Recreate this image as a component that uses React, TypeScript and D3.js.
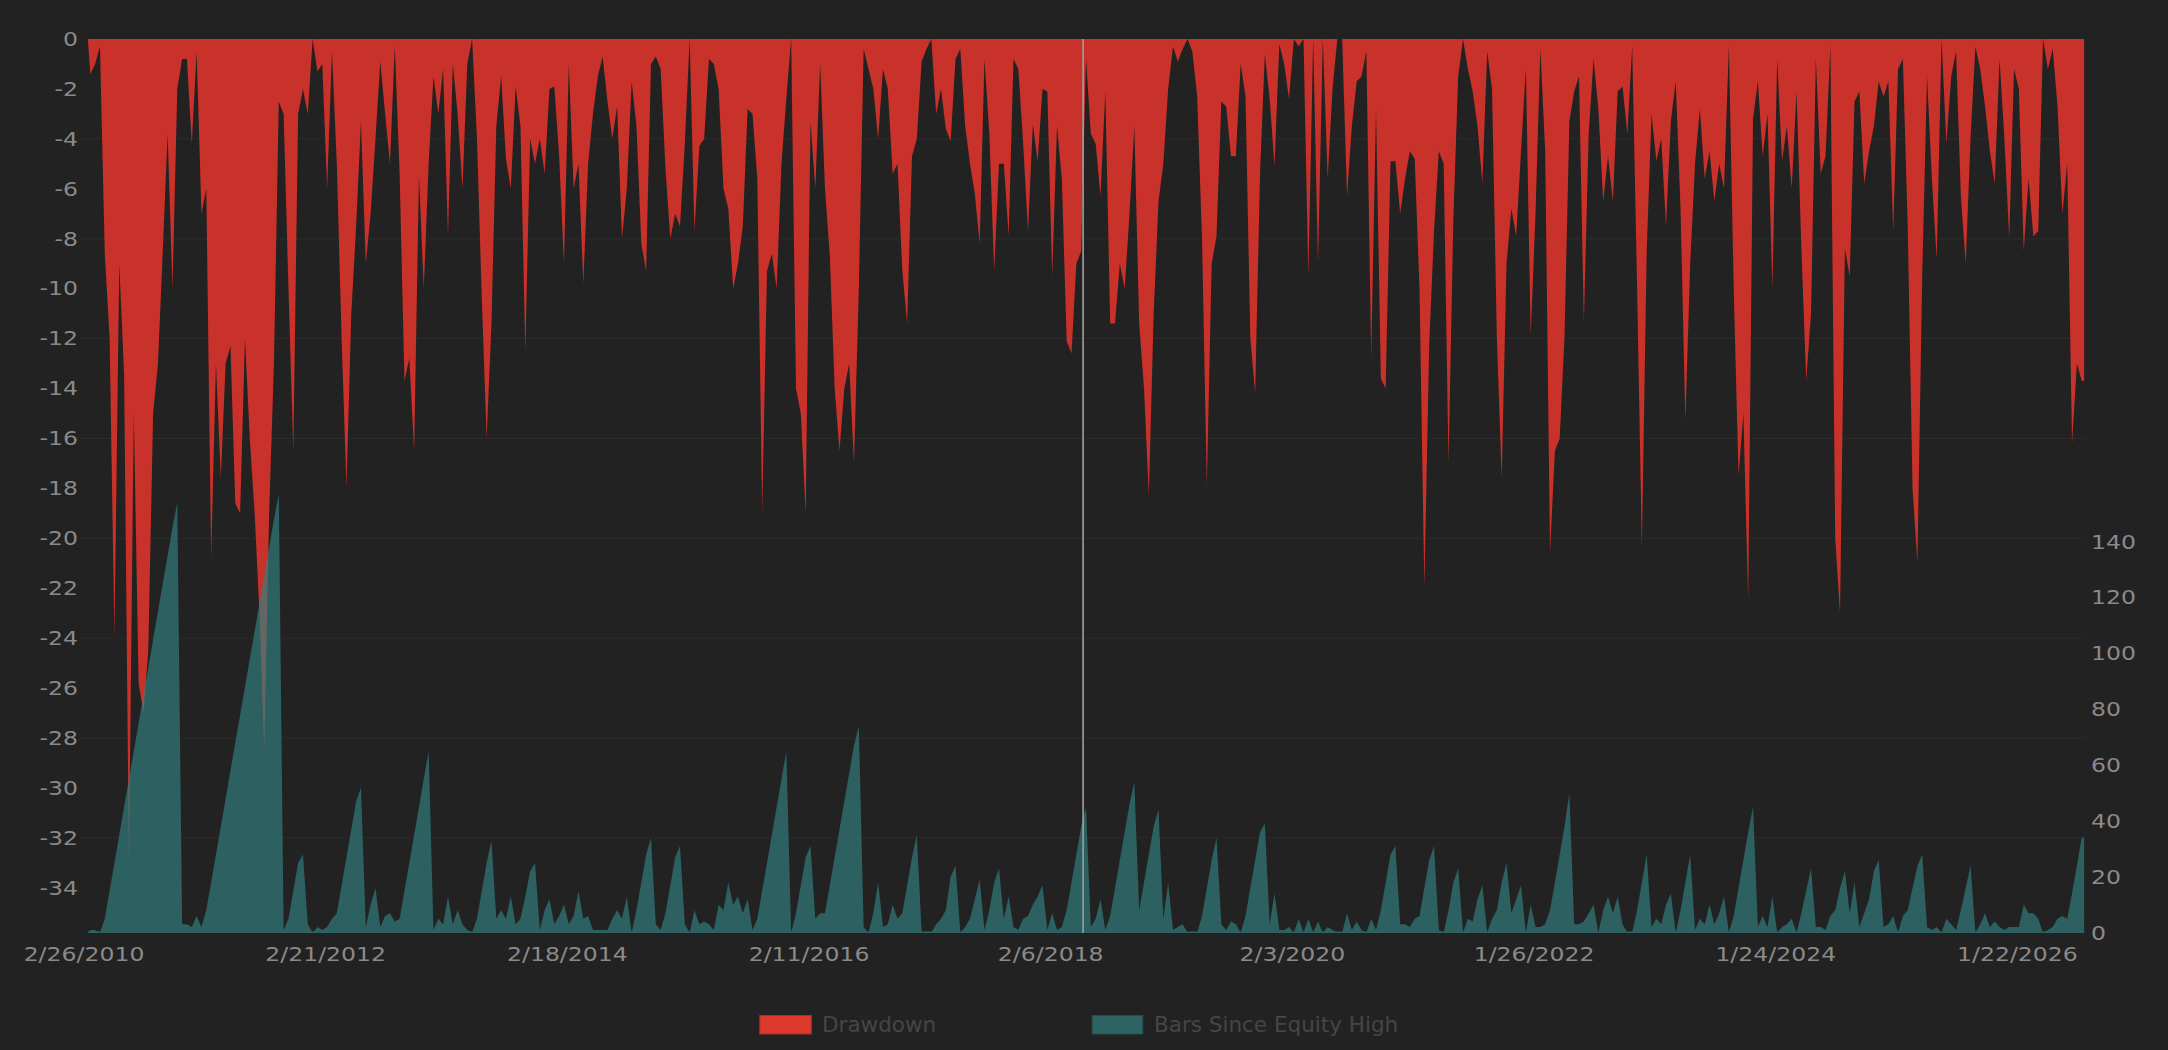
import React from 'react';
import * as d3 from 'd3';

// drawdown (%) per sample of 10 bars
const drawdown: number[] = [
  -1.4, -1.0, -0.3, -8.6, -12, -24, -9, -13.5, -33, -15,
  -25.8, -27, -24.5, -15, -13, -8.5, -3.8, -10, -2, -0.8,
  -0.8, -4.2, -0.5, -7, -6, -20.8, -13, -17.6, -13, -12.3,
  -18.6, -19, -12, -16, -19, -23, -28.5, -19, -13, -2.5,
  -3, -10, -16.5, -3, -2, -3, 0, -1.3, -1, -6,
  -0.5, -5, -12, -18, -11, -7.5, -3.3, -9, -7, -4,
  -0.9, -3, -5, -0.3, -5.4, -13.7, -12.8, -16.5, -5.5, -10,
  -5, -1.5, -3, -1.2, -7.9, -1, -3, -6, -1, 0,
  -4, -10.4, -16, -11.4, -3.5, -1.5, -4.8, -6, -1.9, -3.5,
  -12.5, -4, -5, -4, -5.4, -2, -1.9, -4.7, -9, -1,
  -6, -5, -9.8, -5, -3, -1.5, -0.7, -2.5, -4, -2.7,
  -8, -6, -1.7, -3.5, -8.2, -9.3, -1, -0.7, -1.2, -5.2,
  -8, -7, -7.5, -4.2, 0, -7.7, -4.3, -4, -0.8, -1,
  -2, -6, -6.8, -10, -9, -7.5, -2.8, -3, -5.6, -19,
  -9.3, -8.6, -10, -5, -2.4, 0, -14, -15, -19, -3.3,
  -6, -1, -6, -8.7, -14, -16.5, -14, -13, -17, -10,
  -0.4, -1.2, -2, -4, -1.2, -2, -5.4, -5, -9.3, -11.4,
  -4.7, -4, -0.9, -0.4, 0, -3, -2, -3.6, -4.1, -0.8,
  -0.4, -3.5, -5, -6.2, -8.2, -0.8, -3.8, -9.3, -5, -5,
  -7.9, -0.8, -1.2, -4.2, -7.7, -3.4, -4.9, -2, -2.1, -9.5,
  -3.5, -5.6, -12.1, -12.6, -9, -8.5, -0.8, -3.8, -4.2, -6.3,
  -2.1, -11.4, -11.4, -9, -10, -7, -3.5, -11.4, -14, -18.3,
  -11, -6.5, -5, -2, -0.3, -0.9, -0.4, 0, -0.5, -2.3,
  -8, -17.9, -9, -7.9, -2.5, -2.7, -4.7, -4.7, -1, -2.3,
  -12, -14.2, -5.4, -0.6, -2.4, -5.1, -0.2, -1, -2.4, 0,
  -0.3, 0, -9.5, 0, -9, 0, -5.6, -2, 0, 0,
  -6.3, -3.5, -1.7, -1.5, -0.5, -12.8, -2.8, -13.6, -14, -4.9,
  -4.9, -7, -5.6, -4.5, -4.8, -10, -22, -12.3, -7.7, -4.5,
  -5, -17, -7.2, -1.5, 0, -1.2, -2.1, -3.5, -5.8, -0.5,
  -2, -12, -17.6, -9, -6.8, -7.9, -4.5, -1.2, -11.9, -7,
  -0.4, -4.5, -20.6, -16.5, -16, -11.9, -3.3, -2.1, -1.5, -11.4,
  -3.8, -0.8, -2.8, -6.5, -4.7, -6.5, -2.1, -1.9, -3.8, -0.3,
  -9.8, -20.4, -8.5, -3, -4.9, -4, -7.5, -3.3, -1.7, -6.8,
  -15.3, -9, -5, -2.8, -5.6, -4.5, -6.5, -5, -6, -0.3,
  -10, -17.5, -15, -22.5, -3.2, -1.7, -4.7, -3, -10, -0.8,
  -4.9, -3.5, -6, -2.1, -8.4, -13.7, -11, -0.8, -5.4, -4.7,
  -0.3, -20, -23, -8.4, -9.5, -2.5, -2.1, -5.8, -4.5, -3.5,
  -1.7, -2.3, -1.7, -7.7, -1.2, -0.8, -7.5, -18, -21, -9.5,
  -1.5, -5.6, -8.8, 0, -4.2, -1.5, -0.5, -6.3, -9, -4,
  -0.3, -1.2, -2.7, -4.5, -5.8, -0.8, -4, -8, -1.2, -2,
  -8.5, -5.6, -7.9, -7.7, 0, -1.2, -0.4, -2.7, -7, -5,
  -16.2, -13, -13.7,
];

// bars since equity high, same samples
const barsSinceHigh: number[] = [
  1, 1, 0, 5, 15, 25, 35, 45, 55, 65,
  75, 85, 95, 105, 115, 125, 135, 145, 154, 3,
  3, 2, 6, 2, 8, 18, 28, 38, 48, 58,
  68, 78, 88, 98, 108, 118, 128, 138, 148, 157,
  1, 5, 15, 25, 28, 3, 0, 2, 1, 2,
  5, 7, 17, 27, 37, 47, 52, 2, 10, 16,
  2, 6, 7, 4, 5, 15, 25, 35, 45, 55,
  65, 1, 5, 3, 13, 3, 8, 3, 1, 0,
  5, 15, 25, 33, 5, 8, 5, 13, 3, 5,
  13, 22, 25, 1, 8, 12, 3, 6, 10, 3,
  6, 15, 5, 6, 1, 1, 1, 1, 5, 8,
  5, 13, 0, 8, 18, 28, 34, 3, 1, 7,
  17, 27, 31, 3, 0, 8, 3, 4, 3, 1,
  10, 8, 18, 10, 13, 7, 12, 1, 5, 15,
  25, 35, 45, 55, 65, 0, 7, 17, 27, 31,
  5, 7, 7, 17, 27, 37, 47, 57, 67, 74,
  2, 0, 7, 18, 2, 3, 10, 5, 7, 17,
  27, 35, 0, 0, 0, 3, 5, 8, 20, 24,
  0, 2, 5, 12, 19, 1, 8, 18, 23, 5,
  13, 2, 1, 5, 6, 10, 13, 17, 1, 7,
  1, 2, 8, 18, 28, 38, 45, 2, 5, 12,
  1, 6, 16, 26, 36, 46, 54, 8, 18, 28,
  38, 44, 5, 18, 1, 2, 3, 0, 0, 0,
  6, 16, 26, 34, 3, 1, 4, 3, 0, 6,
  16, 26, 36, 39, 3, 14, 1, 1, 2, 0,
  5, 0, 5, 0, 4, 0, 2, 1, 0, 0,
  7, 1, 4, 1, 0, 5, 1, 8, 18, 28,
  31, 3, 3, 2, 5, 6, 16, 26, 31, 1,
  0, 8, 18, 23, 0, 5, 4, 12, 17, 0,
  5, 8, 18, 25, 7, 12, 17, 0, 10, 2,
  2, 3, 8, 18, 28, 38, 50, 3, 3, 4,
  7, 10, 0, 8, 13, 7, 13, 3, 0, 0,
  8, 18, 28, 2, 5, 3, 10, 14, 0, 8,
  18, 28, 1, 5, 3, 10, 3, 7, 13, 0,
  6, 16, 26, 36, 45, 2, 6, 2, 13, 0,
  2, 3, 5, 0, 7, 15, 23, 2, 2, 1,
  6, 8, 16, 22, 7, 18, 2, 7, 12, 22,
  26, 2, 3, 6, 0, 6, 8, 16, 24, 28,
  2, 1, 2, 0, 5, 3, 1, 8, 16, 24,
  0, 3, 7, 2, 4, 2, 1, 2, 2, 2,
  10, 7, 7, 5, 0, 1, 2, 5, 6, 5,
  14, 24, 34,
];

const tickLabels = ['2/26/2010', '2/21/2012', '2/18/2014', '2/11/2016', '2/6/2018', '2/3/2020', '1/26/2022', '1/24/2024', '1/22/2026'];
const tickBars = [0, 500, 1000, 1500, 2000, 2500, 3000, 3500, 4000];
const leftTicks = d3.range(0, -35, -2);       // 0 .. -34
const gridValues = d3.range(-4, -35, -4);     // -4 .. -32
const rightTicks = d3.range(0, 141, 20);      // 0 .. 140
const legendItems = ['Drawdown', 'Bars Since Equity High'];

const FIRST_BAR = 8;
const BARS_PER_SAMPLE = 10;
const TOTAL_BARS = 4140;
const CURSOR_BAR = 2067;

const W = 2168;
const H = 1050;
const TOP = 39;
const BOTTOM = 932.7;
const LEFT = 84;
const RIGHT = 2085.1;

const RED = '#c8322a';
const TEAL = '#328080';
const AXIS_COLOR = '#8a8a8a';
const FONT = '"DejaVu Sans", Verdana, sans-serif';
const STRETCH = 1.24; // axis text in the source is horizontally stretched

type Pt = [number, number];

export default function App() {
  const x = d3.scaleLinear().domain([0, TOTAL_BARS]).range([LEFT, RIGHT]);
  const yL = d3.scaleLinear().domain([-35.8, 0]).range([BOTTOM, TOP]);
  const yR = d3.scaleLinear().domain([0, 320]).range([BOTTOM, TOP]);

  const sx = (i: number) => x(FIRST_BAR + i * BARS_PER_SAMPLE);
  const bw = x(BARS_PER_SAMPLE) - x(0);
  const n = drawdown.length;

  // the source's hair-thin bars read as a silhouette, so trace the sample values
  const toPoints = (vals: number[]): Pt[] => [
    [sx(0), 0],
    ...vals.map((v, i) => [sx(i) + bw / 2, v] as Pt),
    [sx(vals.length), vals[vals.length - 1]],
  ];

  const ddArea = d3.area<Pt>()
    .x(p => p[0])
    .y0(yL(0))
    .y1(p => yL(p[1]))
    .curve(d3.curveLinear);

  const bshArea = d3.area<Pt>()
    .x(p => p[0])
    .y0(yR(0))
    .y1(p => yR(p[1]))
    .curve(d3.curveLinear);

  return (
    <div style={{ position: 'fixed', left: 0, top: 0, width: W, height: H, background: '#222222' }}>
      <svg width={W} height={H} style={{ display: 'block' }} fontFamily={FONT}>
        <rect x={0} y={0} width={W} height={H} fill="#222222" />

        {/* grid */}
        {gridValues.map(v => (
          <line key={'g' + v} x1={LEFT - 4} x2={RIGHT} y1={yL(v)} y2={yL(v)} stroke="#2c2c2c" strokeWidth={1} />
        ))}

        {/* drawdown */}
        <path d={ddArea(toPoints(drawdown)) || ''} fill={RED} />

        {/* bars since equity high, drawn over the drawdown */}
        <g opacity={0.67}>
          <path d={bshArea(toPoints(barsSinceHigh)) || ''} fill={TEAL} />
        </g>
        <line x1={sx(0)} x2={sx(n)} y1={BOTTOM - 0.5} y2={BOTTOM - 0.5} stroke="#2f6262" strokeWidth={1.5} />

        {/* cursor line */}
        <line x1={x(CURSOR_BAR)} x2={x(CURSOR_BAR)} y1={TOP} y2={BOTTOM} stroke="#a0a0a0" strokeWidth={1.6} />

        {/* left axis */}
        {leftTicks.map(v => (
          <text key={'l' + v} transform={`translate(78,${yL(v)}) scale(${STRETCH},1)`} textAnchor="end" dy="0.36em" fontSize={19} fill={AXIS_COLOR}>
            {v}
          </text>
        ))}

        {/* right axis */}
        {rightTicks.map(v => (
          <text key={'r' + v} transform={`translate(2091,${yR(v)}) scale(${STRETCH},1)`} textAnchor="start" dy="0.36em" fontSize={19} fill={AXIS_COLOR}>
            {v}
          </text>
        ))}

        {/* bottom axis */}
        {tickLabels.map((t, i) => (
          <text key={'x' + t} transform={`translate(${x(tickBars[i])},961) scale(${STRETCH},1)`} textAnchor="middle" fontSize={19} fill={AXIS_COLOR}>
            {t}
          </text>
        ))}

        {/* legend */}
        <g>
          <rect x={759.8} y={1015.5} width={51.5} height={18.5} fill="#dc3a2c" stroke="#b02e25" strokeWidth={1} />
          <text x={822} y={1032.3} fontSize={21.5} fill="#464646">{legendItems[0]}</text>
          <rect x={1092.2} y={1015.5} width={50.6} height={18.5} fill="#2e6363" stroke="#234f4f" strokeWidth={1} />
          <text x={1154} y={1032.3} fontSize={21.5} fill="#464646">{legendItems[1]}</text>
        </g>
      </svg>
    </div>
  );
}
